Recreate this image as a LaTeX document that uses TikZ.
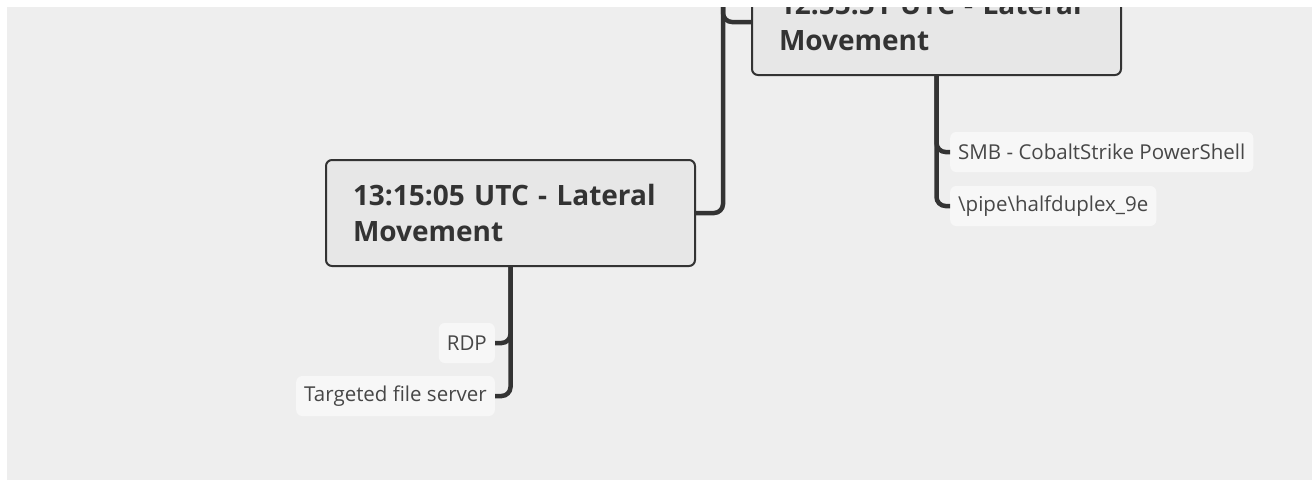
\documentclass[tikz,border=0pt]{standalone}
\usepackage{fontspec}
\setmainfont{Open Sans}
\definecolor{canvas}{HTML}{EEEEEE}
\definecolor{topicfill}{HTML}{E7E7E7}
\definecolor{ink}{HTML}{333333}
\definecolor{leaffill}{HTML}{F7F7F7}
\begin{document}
\begin{tikzpicture}[x=1pt, y=-1pt,
  topic/.style={draw=ink, line width=2pt, rounded corners=6pt, fill=topicfill, text=ink,
                align=left, text width=315pt, inner xsep=27pt, inner ysep=0pt,
                minimum height=106pt, font=\fontsize{28}{36}\selectfont\bfseries},
  leaf/.style={fill=leaffill, rounded corners=6pt, text=ink!90, inner xsep=8pt,
               minimum height=40pt, font=\fontsize{20.5}{22}\selectfont},
  conn/.style={draw=ink, line width=4.5pt, rounded corners=9pt},
]
  \useasboundingbox (0,0) rectangle (1312,480);
  \fill[white] (0,0) rectangle (1312,480);
  \fill[canvas] (7,7) rectangle (1312,480);

  \begin{scope}
  \clip (7,7) rectangle (1312,480);
  \coordinate (trunk) at (723,0);

  \node[topic] (move1) at (936.5,22) {12:55:51 UTC - Lateral\\Movement};
  \node[topic] (move2) at (510.5,213) {13:15:05 UTC - Lateral\\Movement};

  \node[leaf, anchor=west] (smb) at (950,152) {SMB - CobaltStrike PowerShell};
  \node[leaf, anchor=west] (pipe) at (950,206) {\textbackslash pipe\textbackslash halfduplex\_9e};
  \node[leaf, anchor=east] (rdp) at (495,343) {RDP};
  \node[leaf, anchor=east] (srv) at (495,396) {Targeted file server};

  \draw[conn] (trunk) |- (move1.west);
  \draw[conn] (trunk) |- (move2.east);
  \draw[conn] (move1.south) |- (smb.west);
  \draw[conn] (move1.south) |- (pipe.west);
  \draw[conn] (move2.south) |- (rdp.east);
  \draw[conn] (move2.south) |- (srv.east);
  \end{scope}
\end{tikzpicture}
\end{document}
